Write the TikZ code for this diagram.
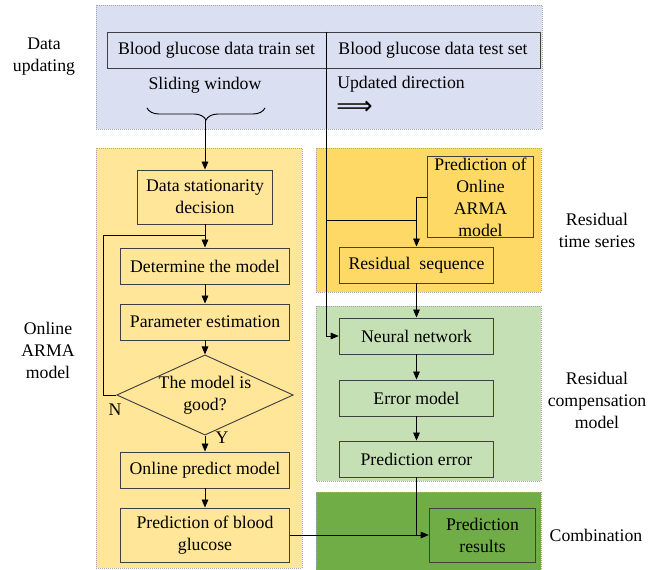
\documentclass[tikz,border=0pt]{standalone}
\usepackage{fontspec}
\setmainfont{Liberation Serif}
\newfontfamily\arrowfont{DejaVu Sans}
\usepackage{tikz}
\usetikzlibrary{arrows.meta, positioning, shapes.geometric, decorations.pathreplacing}

\definecolor{updblue}{RGB}{218,224,242}
\definecolor{armayellow}{RGB}{255,230,153}
\definecolor{residyellow}{RGB}{255,217,102}
\definecolor{complight}{RGB}{197,224,180}
\definecolor{combgreen}{RGB}{112,173,71}

\begin{document}
\begin{tikzpicture}[
        x=0.75pt, y=-0.75pt,
        every node/.style={font=\fontsize{13.3}{16.5}\selectfont, align=center},
        region/.style={draw=gray!70, densely dotted, line width=0.5pt},
        box/.style={draw=black!75, line width=0.7pt, inner sep=2pt, minimum height=27pt},
        leftbox/.style={box, minimum width=126.75pt},
        rightbox/.style={box, minimum width=116pt},
        flow/.style={-{Triangle[length=6pt,width=5pt]}, line width=0.6pt},
        link/.style={line width=0.6pt}
    ]

    \useasboundingbox (0,0) rectangle (665,570);

    % background regions
    \fill[updblue] (96,5) rectangle (542,129);
    \draw[region] (96,5) rectangle (542,129);
    \fill[armayellow] (96,148) rectangle (302,568);
    \draw[region] (96,148) rectangle (302,568);
    \fill[residyellow] (316,148) rectangle (541,292);
    \draw[region] (316,148) rectangle (541,292);
    \fill[complight] (316,306) rectangle (541,481);
    \draw[region] (316,306) rectangle (541,481);
    \fill[combgreen] (316,492) rectangle (541,570);
    \draw[region] (316,492) rectangle (541,570);

    % side labels
    \node (lupdate) at (44,57) {Data\\updating};
    \node (larma) at (48,350) {Online\\ARMA\\model};
    \node (lresid) at (597,230) {Residual\\time series};
    \node (lcomp) at (597,400) {Residual\\compensation\\model};
    \node (lcomb) at (596,535) {Combination};

    % data updating
    \node[box, minimum width=164.25pt] (train) at (216.5,50) {Blood glucose data train set};
    \node[box, minimum width=160.5pt] (test) at (433,50) {Blood glucose data test set};
    \node (sliding) at (205,85) {Sliding window};
    \node[anchor=west, inner sep=0pt] (updir) at (337,84) {Updated direction};
    \node[anchor=west, inner sep=0pt, font=\arrowfont\fontsize{19}{19}\selectfont] (uparrow) at (336,108) {⟹};
    \draw[decorate, decoration={brace, mirror, amplitude=9pt}, line width=0.7pt]
        (147,108) -- (265,108);
    \coordinate (brace) at (205,120);

    % online ARMA model
    \node[box, minimum width=101pt, minimum height=40.5pt] (station) at (205,197) {Data stationarity\\decision};
    \node[leftbox] (determine) at (205,266) {Determine the model};
    \node[leftbox] (estimate) at (205,322) {Parameter estimation};
    \node[diamond, draw=black!75, line width=0.7pt, inner sep=0pt, shape aspect=2.2,
          minimum width=126.75pt, minimum height=57pt] (good) at (205,395) {The model is\\good?};
    \node[leftbox] (online) at (205,470) {Online predict model};
    \node[leftbox, minimum height=40.5pt] (bgpred) at (205,535) {Prediction of blood\\glucose};
    \coordinate (loopin) at (205,235);
    \node (no) at (115,410) {N};
    \node (yes) at (222,438) {Y};

    % residual time series
    \node[box, minimum width=80pt, minimum height=60pt, inner sep=1pt] (armapred) at (480.5,197) {Prediction of\\Online\\ARMA\\model};
    \node[rightbox] (residual) at (416.5,265) {Residual\ \ sequence};
    \coordinate (split) at (326,220);
    \coordinate (merge) at (416.5,220);

    % residual compensation model
    \node[rightbox] (neural) at (416.5,336) {Neural network};
    \node[rightbox] (errmodel) at (416.5,398) {Error model};
    \node[rightbox] (prederr) at (416.5,459) {Prediction error};

    % combination
    \node[box, minimum width=80pt, minimum height=40.5pt] (results) at (482.5,535) {Prediction\\results};

    % connectors
    \draw[flow] (brace) -- (station);
    \draw[flow] (station) -- (determine);
    \draw[flow] (determine) -- (estimate);
    \draw[flow] (estimate) -- (good);
    \draw[flow] (good) -- (online);
    \draw[flow] (online) -- (bgpred);
    \draw[link] (good.west) -- ++(-13,0) |- (loopin);
    \draw[flow] (train.north east) |- (neural.west);
    \draw[link] (split) -- (merge);
    \draw[flow] (armapred.west) -| (residual.north);
    \draw[flow] (residual) -- (neural);
    \draw[flow] (neural) -- (errmodel);
    \draw[flow] (errmodel) -- (prederr);
    \draw[link] (prederr.south) -- (prederr.south |- results.west);
    \draw[flow] (bgpred.east) -- (results.west);

\end{tikzpicture}
\end{document}
